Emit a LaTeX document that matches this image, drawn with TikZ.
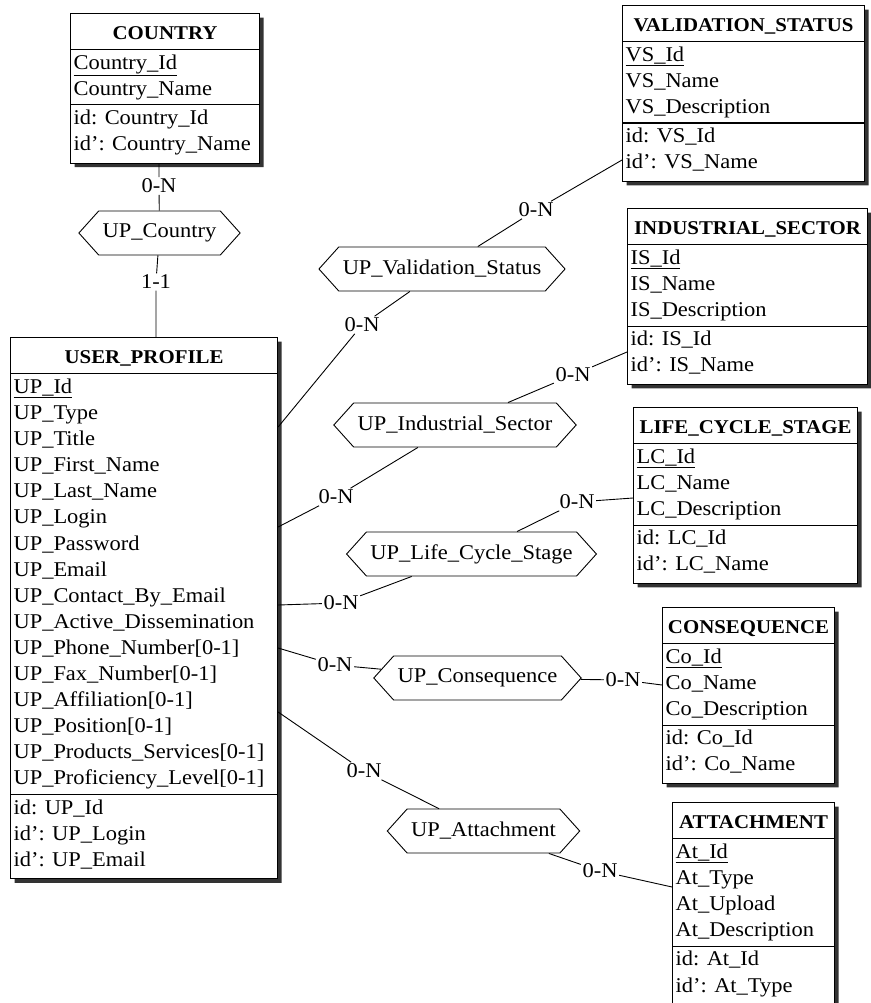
\documentclass[tikz,border=0pt]{standalone}
\usepackage{fontspec}
\setmainfont{Liberation Serif}[FakeStretch=1.07]
\usetikzlibrary{shapes.multipart,shapes.symbols,shadows}

% body and title fonts of the schema
\newcommand\erbody{\fontsize{21}{26.1}\selectfont}
\newcommand\ertitle{\fontsize{19.5}{24}\selectfont\bfseries}

% entity type: #1 node name, #2 north-west corner, #3 text width,
% #4 title, #5 attributes, #6 identifiers
\newcommand\entity[6]{%
  \node[entity, anchor=north west] (#1) at #2 {%
    \parbox{#3}{\centering\ertitle\rule[-9pt]{0pt}{33pt}#4}%
    \nodepart{two}\parbox{#3}{\begin{tabular}{@{}l@{}}#5\end{tabular}}%
    \nodepart{three}\parbox{#3}{\begin{tabular}{@{}l@{}}#6\end{tabular}\par\vspace{3pt}}};}

\tikzset{
  entity/.style={rectangle split, rectangle split parts=3, draw=black,
    line width=1.1pt, fill=white, inner xsep=3pt, inner ysep=1pt, font=\erbody,
    drop shadow={shadow xshift=4pt, shadow yshift=-4pt, fill=black!80, opacity=1}},
  relship/.style={signal, signal to=west and east, signal pointer angle=96,
    draw=black, line width=0.9pt, fill=white, minimum height=44pt,
    inner xsep=4pt, inner ysep=0pt, font=\erbody},
  card/.style={inner sep=1.5pt, font=\erbody},
  link/.style={line width=0.9pt},
}

\begin{document}
\begin{tikzpicture}[x=1pt, y=-1pt]
\useasboundingbox (0,0) rectangle (870,1003);

% ---------- entity types ----------
\entity{country}{(70,13)}{183pt}{COUNTRY}
  {\underline{Country\_Id}\\ Country\_Name}
  {id: Country\_Id\\ id': Country\_Name}

\entity{vs}{(622,5)}{236pt}{VALIDATION\_STATUS}
  {\underline{VS\_Id}\\ VS\_Name\\ VS\_Description}
  {id: VS\_Id\\ id': VS\_Name}

\entity{is}{(627,208)}{234pt}{INDUSTRIAL\_SECTOR}
  {\underline{IS\_Id}\\ IS\_Name\\ IS\_Description}
  {id: IS\_Id\\ id': IS\_Name}

\entity{lc}{(633,407)}{218pt}{LIFE\_CYCLE\_STAGE}
  {\underline{LC\_Id}\\ LC\_Name\\ LC\_Description}
  {id: LC\_Id\\ id': LC\_Name}

\entity{co}{(662,607)}{166pt}{CONSEQUENCE}
  {\underline{Co\_Id}\\ Co\_Name\\ Co\_Description}
  {id: Co\_Id\\ id': Co\_Name}

\entity{at}{(672,802)}{156pt}{ATTACHMENT}
  {\underline{At\_Id}\\ At\_Type\\ At\_Upload\\ At\_Description}
  {id: At\_Id\\ id': At\_Type}

\entity{up}{(10,337)}{261pt}{USER\_PROFILE}
  {\underline{UP\_Id}\\ UP\_Type\\ UP\_Title\\ UP\_First\_Name\\ UP\_Last\_Name\\
   UP\_Login\\ UP\_Password\\ UP\_Email\\ UP\_Contact\_By\_Email\\
   UP\_Active\_Dissemination\\ UP\_Phone\_Number[0-1]\\ UP\_Fax\_Number[0-1]\\
   UP\_Affiliation[0-1]\\ UP\_Position[0-1]\\ UP\_Products\_Services[0-1]\\
   UP\_Proficiency\_Level[0-1]}
  {id: UP\_Id\\ id': UP\_Login\\ id': UP\_Email}

% ---------- relationship types ----------
\node[relship] (hcountry) at (159.5,233) {UP\_Country};
\node[relship] (hvs) at (442,269) {UP\_Validation\_Status};
\node[relship] (his) at (455,425) {UP\_Industrial\_Sector};
\node[relship] (hlc) at (471.5,554) {UP\_Life\_Cycle\_Stage};
\node[relship] (hco) at (477.5,678) {UP\_Consequence};
\node[relship] (hat) at (483.5,831) {UP\_Attachment};

% ---------- cardinalities ----------
\node[card] (c1) at (159,186) {0-N};
\node[card] (c2) at (156,282) {1-1};
\node[card] (vs1) at (362,325) {0-N};
\node[card] (vs2) at (536,210) {0-N};
\node[card] (is1) at (336,497) {0-N};
\node[card] (is2) at (573,375) {0-N};
\node[card] (lc1) at (341,603) {0-N};
\node[card] (lc2) at (577,502) {0-N};
\node[card] (co1) at (335,665) {0-N};
\node[card] (co2) at (623,680) {0-N};
\node[card] (at1) at (364,771) {0-N};
\node[card] (at2) at (600,871) {0-N};

% ---------- roles ----------
\draw[link] (c1 |- country.south) -- (c1) (c1) -- (hcountry)
            (hcountry) -- (c2) (c2) -- (c2 |- up.north);

\draw[link] ([yshift=-90pt]up.north east) -- (vs1) (vs1) -- (hvs)
            (hvs) -- (vs2) (vs2) -- ([yshift=-155pt]vs.north west);

\draw[link] ([yshift=-190pt]up.north east) -- (is1) (is1) -- (his)
            (his) -- (is2) (is2) -- ([yshift=-144pt]is.north west);

\draw[link] ([yshift=-268pt]up.north east) -- (lc1) (lc1) -- (hlc)
            (hlc) -- (lc2) (lc2) -- ([yshift=-91pt]lc.north west);

\draw[link] ([yshift=-311pt]up.north east) -- (co1) (co1) -- (hco)
            (hco) -- (co2) (co2) -- ([yshift=-78pt]co.north west);

\draw[link] ([yshift=-375pt]up.north east) -- (at1) (at1) -- (hat)
            (hat) -- (at2) (at2) -- ([yshift=-85pt]at.north west);
\end{tikzpicture}
\end{document}
